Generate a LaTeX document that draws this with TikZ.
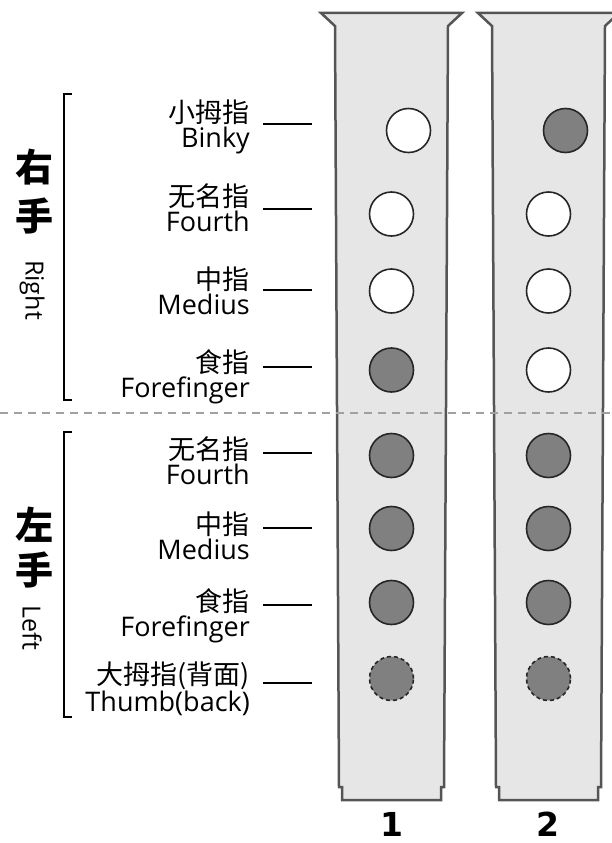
\documentclass[tikz,border=0pt]{standalone}
\usepackage{fontspec}
\setmainfont{Open Sans}
\newfontfamily\cjk{Noto Sans CJK SC}
\newfontfamily\numfont{DejaVu Sans}
\usetikzlibrary{positioning}
\definecolor{tubefill}{HTML}{E6E6E6}
\definecolor{tubewall}{HTML}{555555}
\definecolor{holefill}{HTML}{808080}
\definecolor{splitgray}{HTML}{A0A0A0}

\begin{document}
\begin{tikzpicture}[x=1pt,y=-1pt,
		tube/.style={fill=tubefill,draw=tubewall,line width=2.5pt},
		hole/.style={circle,draw=black!85,line width=1.6pt,minimum size=44pt,inner sep=0pt},
		openhole/.style={hole,fill=white},
		shuthole/.style={hole,fill=holefill},
		backhole/.style={shuthole,dash pattern=on 4pt off 3pt},
		fingername/.style={anchor=base east,align=right,inner sep=0pt,font=\fontsize{27}{25}\selectfont},
		handname/.style={inner sep=0pt,font=\cjk\bfseries\fontsize{38}{38}\selectfont},
		sidename/.style={rotate=-90,inner sep=0pt,font=\fontsize{25}{25}\selectfont},
		tubenum/.style={anchor=base,inner sep=0pt,font=\numfont\bfseries\fontsize{33}{33}\selectfont}]
		\useasboundingbox (0,0) rectangle (612,843);
		\foreach \dx in {0,157} %tubes
			\draw[tube] (321+\dx,13) -- (462+\dx,13) -- (448+\dx,26) -- (444+\dx,787) -- (441+\dx,787) -- (441+\dx,800)
				-- (342+\dx,800) -- (342+\dx,787) -- (339+\dx,787) -- (335+\dx,26) -- cycle;
		\coordinate (split-l) at (0,413); %hand divider
		\coordinate (split-r) at (612,413);
		\draw[splitgray,line width=1.4pt,dash pattern=on 8pt off 6pt] (split-l) -- (split-r);
		\foreach \x/\y/\s [count=\i] in {408.5/130.5/openhole,391.5/214/openhole,391.5/291/openhole,391.5/370/shuthole,
				391.5/455.5/shuthole,391.5/528.5/shuthole,391.5/602.5/shuthole,391.5/678.5/backhole,
				565.5/130.5/shuthole,548.5/214/openhole,548.5/291/openhole,548.5/370/openhole,
				548.5/455.5/shuthole,548.5/528.5/shuthole,548.5/602.5/shuthole,548.5/678.5/backhole} %holes
			\node[\s] (h\i) at (\x,\y) {};
		\foreach \cn/\en/\base/\ly [count=\i] in {小拇指/Binky/147/124,无名指/Fourth/231/209,中指/Medius/314/290,食指/Forefinger/397/367,
				无名指/Fourth/484/453,中指/Medius/559/528,食指/Forefinger/636/605,{大拇指(背面)}/{Thumb(back)}/711/683} %finger names
		{
			\node[fingername] (f\i) at (250,\base) {{\cjk\cn}\\\en};
			\coordinate (f\i-a) at (263,\ly);
			\coordinate (f\i-b) at (312,\ly);
			\draw[line width=1.2pt] (f\i-a) -- (f\i-b);
		}
		\node[handname] (rh1) at (35,167) {右}; %hands
		\node[handname] (rh2) at (35,216) {手};
		\node[sidename] (rh3) at (32,290) {Right};
		\node[handname] (lh1) at (34,525) {左};
		\node[handname] (lh2) at (34,570) {手};
		\node[sidename] (lh3) at (32,628) {Left};
		\draw[line width=2pt] (72,94) -- (64,94) -- (64,400) -- (72,400); %brackets
		\draw[line width=2pt] (72,432) -- (64,432) -- (64,717) -- (72,717);
		\node[tubenum] (n1) at (392,836) {1}; %fingerings
		\node[tubenum] (n2) at (548,836) {2};
	\end{tikzpicture}
\end{document}
